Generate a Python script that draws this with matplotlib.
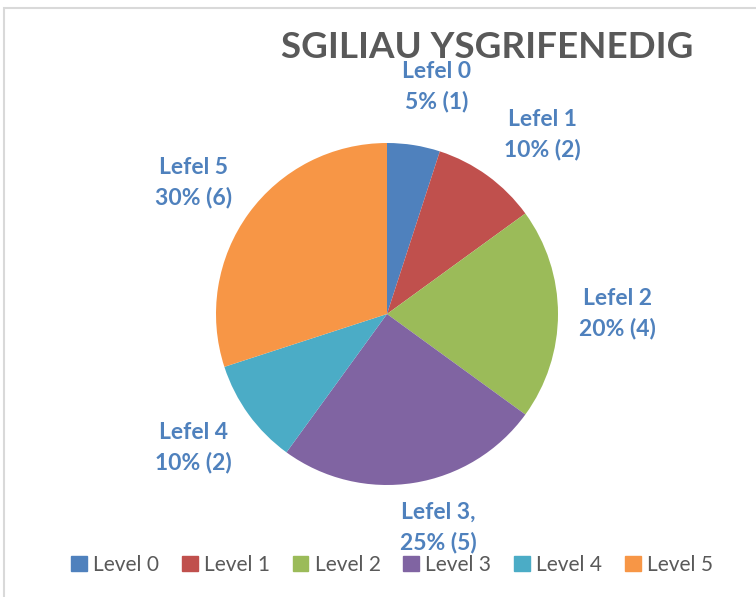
import matplotlib.pyplot as plt
from matplotlib.patches import Rectangle

# data
levels = ["Level 0", "Level 1", "Level 2", "Level 3", "Level 4", "Level 5"]
counts = [1, 2, 4, 5, 2, 6]
label_names = ["Lefel 0", "Lefel 1", "Lefel 2", "Lefel 3,", "Lefel 4", "Lefel 5"]
colors = ["#4F81BD", "#C0504D", "#9BBB59", "#8064A2", "#4BACC6", "#F79646"]

# label centres, in units of pie radius (relative to pie centre)
label_pos = [(0.29, 1.33), (0.91, 1.05), (1.35, 0.0),
             (0.30, -1.25), (-1.13, -0.78), (-1.13, 0.77)]

total = sum(counts)

fig = plt.figure(figsize=(7.56, 5.97), dpi=100)
W, H = 756, 597
cx, cy, r = 387, 314, 171
ax = fig.add_axes([(cx - r) / W, (H - cy - r) / H, 2 * r / W, 2 * r / H])
ax.pie(counts, colors=colors, startangle=90, counterclock=False,
       radius=1, wedgeprops=dict(linewidth=0))
ax.set_xlim(-1, 1)
ax.set_ylim(-1, 1)
ax.set_aspect("equal")
ax.axis("off")

for name, n, (lx, ly) in zip(label_names, counts, label_pos):
    pct = round(100 * n / total)
    ax.text(lx, ly, f"{name}\n{pct}% ({n})", ha="center", va="center",
            fontsize=16.5, fontweight="bold", color="#4F81BD", family="Lato",
            linespacing=1.5, clip_on=False)

fig.text(487 / W, 1 - 47 / H, "SGILIAU YSGRIFENEDIG", ha="center", va="center",
         fontsize=26.5, fontweight="bold", color="#595959", family="Lato")

handles = [Rectangle((0, 0), 1, 1, color=c) for c in colors]
leg = fig.legend(handles, levels, loc="center", bbox_to_anchor=(392 / W, 1 - 565 / H),
                 ncol=6, frameon=False, handlelength=0.75, handleheight=0.75,
                 handletextpad=0.3, columnspacing=1.1,
                 prop=dict(family="Lato", size=15))
for t in leg.get_texts():
    t.set_color("#595959")

# chart frame (only top and left edges are visible)
fig.patches.append(Rectangle((4 / W, -0.1), 1.2, 1.1 - 8 / H, transform=fig.transFigure,
                             fill=False, edgecolor="#D9D9D9", linewidth=1.5))

fig.savefig("out.png", dpi=100)
